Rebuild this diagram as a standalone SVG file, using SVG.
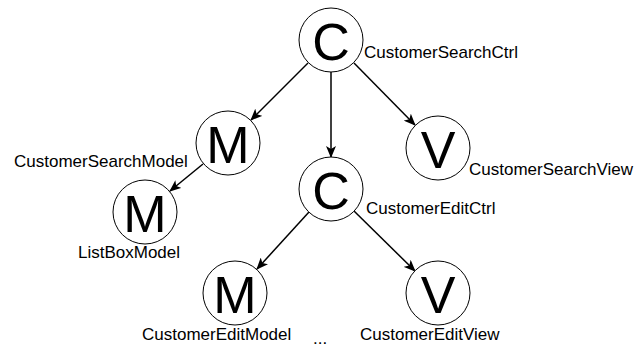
<svg xmlns="http://www.w3.org/2000/svg" width="640" height="350" viewBox="0 0 640 350">
  <defs>
    <marker id="arrow" viewBox="0 0 12 10" refX="11" refY="5" markerWidth="12" markerHeight="10" markerUnits="userSpaceOnUse" orient="auto">
      <path d="M0,0 L12,5 L0,10 L3,5 Z" fill="#000"/>
    </marker>
  </defs>
  <style>
    .node circle { fill: #fff; stroke: #000; stroke-width: 1; }
    .letter { font-family: "Liberation Sans", Arial, sans-serif; font-size: 52px; text-anchor: middle; dominant-baseline: central; }
    .label { font-family: "Liberation Sans", Arial, sans-serif; font-size: 17px; fill: #000; }
    .edges line { stroke: #000; stroke-width: 1.5; marker-end: url(#arrow); }
  </style>
  <rect width="640" height="350" fill="#fff"/>

  <!-- connectors -->
  <g id="edges" class="edges">
    <line x1="308" y1="63" x2="251" y2="120"/>
    <line x1="331" y1="72" x2="331" y2="157"/>
    <line x1="354" y1="63" x2="415" y2="125"/>
    <line x1="203" y1="164" x2="170" y2="191"/>
    <line x1="309" y1="212" x2="257" y2="269"/>
    <line x1="354" y1="211" x2="415" y2="271"/>
  </g>

  <g id="customer-search-ctrl" class="node">
    <circle cx="331" cy="40" r="32"/>
    <text class="letter" x="331" y="42">C</text>
    <text class="label" x="364" y="58">CustomerSearchCtrl</text>
  </g>
  <g id="customer-search-model" class="node">
    <circle cx="228" cy="143" r="32"/>
    <text class="letter" x="228" y="145">M</text>
    <text class="label" x="14" y="167">CustomerSearchModel</text>
  </g>
  <g id="customer-search-view" class="node">
    <circle cx="438" cy="148" r="32"/>
    <text class="letter" x="438" y="150">V</text>
    <text class="label" x="469" y="175">CustomerSearchView</text>
  </g>
  <g id="list-box-model" class="node">
    <circle cx="145" cy="212" r="32"/>
    <text class="letter" x="145" y="214">M</text>
    <text class="label" x="78" y="258">ListBoxModel</text>
  </g>
  <g id="customer-edit-ctrl" class="node">
    <circle cx="331" cy="189" r="32"/>
    <text class="letter" x="331" y="191">C</text>
    <text class="label" x="366" y="214">CustomerEditCtrl</text>
  </g>
  <g id="customer-edit-model" class="node">
    <circle cx="235" cy="293" r="32"/>
    <text class="letter" x="235" y="295">M</text>
    <text class="label" x="142" y="340">CustomerEditModel</text>
  </g>
  <g id="customer-edit-view" class="node">
    <circle cx="438" cy="293" r="32"/>
    <text class="letter" x="438" y="295">V</text>
    <text class="label" x="360" y="340">CustomerEditView</text>
  </g>
  <text class="label" x="313" y="344">...</text>
</svg>
